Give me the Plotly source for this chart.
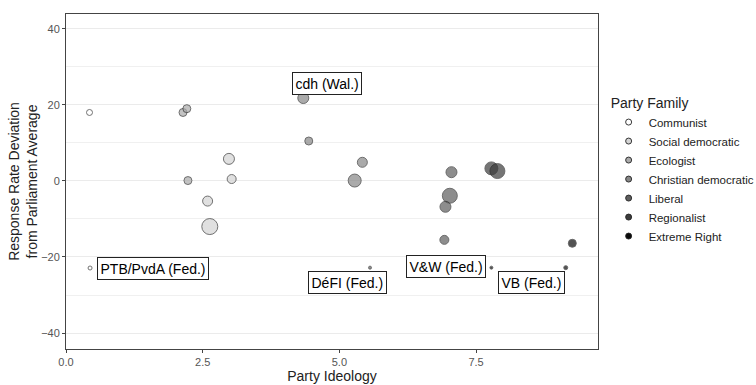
import plotly.graph_objects as go

families = ["Communist", "Social democratic", "Ecologist", "Christian democratic",
            "Liberal", "Regionalist", "Extreme Right"]
family_colors = ["#ffffff", "#d4d4d4", "#aaaaaa", "#878787", "#5e5e5e", "#3c3c3c", "#0a0a0a"]

# Party points: ideology (x), response-rate deviation (y), family, bubble size (px diameter)
ideology = [0.43, 0.44, 2.14, 2.21, 2.23, 2.98, 3.03, 2.59, 2.63,
            4.34, 4.44, 5.28, 5.42, 5.56,
            7.05, 7.02, 6.94, 6.92, 7.78, 7.89, 7.78,
            9.26, 9.14]
deviation = [18.0, -22.9, 18.0, 19.0, 0.1, 5.8, 0.5, -5.3, -12.0,
             21.8, 10.5, 0.1, 4.9, -22.8,
             2.3, -3.9, -6.8, -15.5, 3.3, 2.6, -22.8,
             -16.4, -22.8]
family = ["Communist", "Communist", "Ecologist", "Ecologist", "Ecologist",
          "Social democratic", "Social democratic", "Social democratic", "Social democratic",
          "Christian democratic", "Christian democratic", "Christian democratic", "Christian democratic",
          "Liberal",
          "Liberal", "Liberal", "Liberal", "Liberal", "Regionalist", "Regionalist", "Extreme Right",
          "Extreme Right", "Extreme Right"]
size = [6, 4, 8, 8, 8, 11, 9, 10, 16,
        11, 8, 13, 10, 3,
        11, 15, 11, 9, 13, 15, 3,
        8, 4]

label_text = ["cdh (Wal.)", "PTB/PvdA (Fed.)", "DéFI (Fed.)", "V&W (Fed.)", "VB (Fed.)"]
label_x = [4.77, 1.59, 5.14, 6.95, 8.52]
label_y = [25.5, -22.9, -26.8, -22.4, -26.8]

x_ticks = [0.0, 2.5, 5.0, 7.5]
y_ticks = [-40, -20, 0, 20, 40]

fig = go.Figure()
for fam, col in zip(families, family_colors):
    idx = [i for i, f in enumerate(family) if f == fam]
    fig.add_trace(go.Scatter(
        x=[ideology[i] for i in idx], y=[deviation[i] for i in idx],
        mode="markers", showlegend=False,
        marker=dict(size=[size[i] for i in idx], color=col,
                    line=dict(color="#222222", width=0.9)),
    ))
for fam, col in zip(families, family_colors):
    fig.add_trace(go.Scatter(
        x=[None], y=[None], mode="markers", name=fam,
        marker=dict(size=6, color=col, line=dict(color="#222222", width=0.9)),
    ))

for t, x, y in zip(label_text, label_x, label_y):
    fig.add_annotation(x=x, y=y, text=t, showarrow=False,
                       font=dict(size=14, color="black", family="Liberation Sans, Arial"),
                       bgcolor="white", bordercolor="#222222", borderwidth=1, borderpad=2.5)

fig.update_layout(
    width=756, height=385,
    margin=dict(l=66, r=158, t=14, b=36, autoexpand=False),
    paper_bgcolor="white", plot_bgcolor="white",
    font=dict(family="Liberation Sans, Arial", color="#222222"),
    legend=dict(
        title=dict(text="Party Family", font=dict(size=14, color="#222222")),
        font=dict(size=11.5, color="#222222"),
        x=1.02, xanchor="left", y=0.775, yanchor="top",
        tracegroupgap=0, itemwidth=30,
    ),
    xaxis=dict(
        range=[0, 9.73], tickvals=x_ticks, ticktext=[f"{v:.1f}" for v in x_ticks],
        showgrid=False, zeroline=False, automargin=False,
        showline=True, mirror=True, linecolor="#444444", linewidth=1,
        ticks="outside", ticklen=3, tickcolor="#444444",
        tickfont=dict(size=11, color="#555555"),
        title=dict(text="Party Ideology", font=dict(size=14, color="#222222"), standoff=2),
    ),
    yaxis=dict(
        range=[-44.2, 43.9], tickvals=y_ticks, automargin=False,
        showgrid=True, gridcolor="#ebebeb", gridwidth=1, zeroline=False,
        minor=dict(tickvals=[-30, -10, 10, 30], showgrid=True, gridcolor="#f0f0f0", gridwidth=0.7, ticks=""),
        showline=True, mirror=True, linecolor="#444444", linewidth=1,
        ticks="outside", ticklen=3, tickcolor="#444444",
        tickfont=dict(size=11, color="#555555"),
        title=dict(text="Response Rate Deviation<br>from Parliament Average",
                   font=dict(size=14, color="#222222"), standoff=0),
    ),
)

fig.write_html("out.html", config={"displayModeBar": False},
               post_script="document.body.style.margin='0';document.body.style.overflow='hidden';")
